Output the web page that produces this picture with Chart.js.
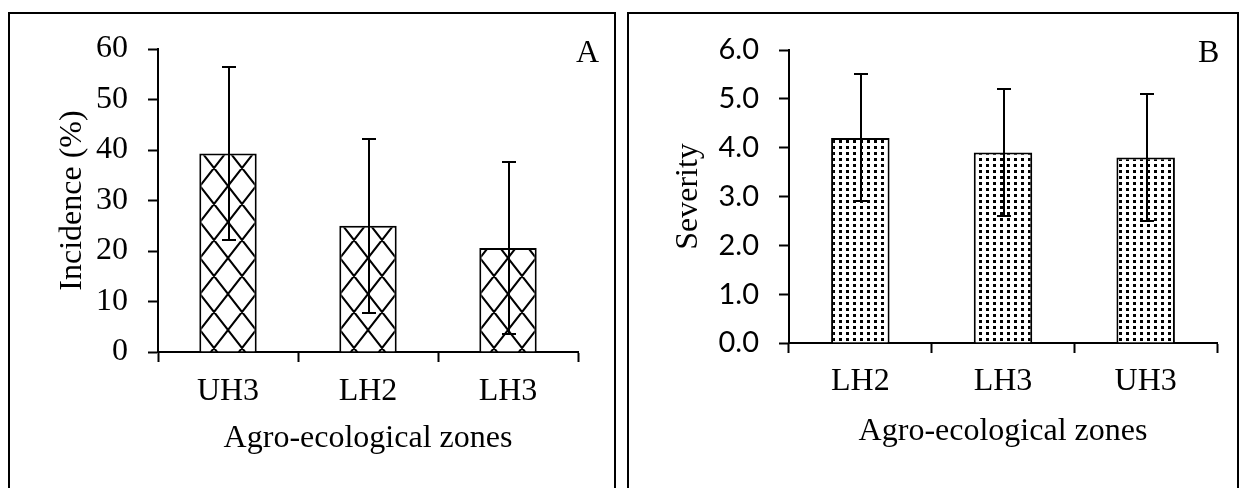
<!DOCTYPE html>
<html>
<head>
<meta charset="utf-8">
<script src="https://cdn.jsdelivr.net/npm/chart.js@4.4.1/dist/chart.umd.min.js"></script>
<style>
    html, body { margin: 0; padding: 0; background: #fff; }
    #page { position: relative; width: 1241px; height: 488px; overflow: hidden; }
    .frame { position: absolute; border: 2px solid #000; box-sizing: border-box; }
    .box { position: absolute; top: 0; height: 488px; }
    .tag { position: absolute; font-family: "Liberation Serif", "Times New Roman", serif; font-size: 32px; line-height: 1; color: #000; }
</style>
</head>
<body>
<div id="page">
    <div class="frame" style="left:8px; top:12px; width:608px; height:500px;"></div>
    <div class="frame" style="left:627px; top:12px; width:612px; height:500px;"></div>
    <div class="box" style="left:0; width:620px;"><canvas id="chartA"></canvas></div>
    <div class="box" style="left:620px; width:621px;"><canvas id="chartB"></canvas></div>
    <div class="tag" style="left:576px; top:35px;">A</div>
    <div class="tag" style="left:1198px; top:35px;">B</div>
</div>
<script>
/* ── Data ─────────────────────────────────────────────── */
var zonesA        = ['UH3', 'LH2', 'LH3'];
var incidence     = [39.3, 25.0, 20.6];
var incidenceErr  = [17.2, 17.2, 17.1];
var incidenceTick = [0, 10, 20, 30, 40, 50, 60];

var zonesB        = ['LH2', 'LH3', 'UH3'];
var severity      = [4.2, 3.9, 3.8];
var severityErr   = [1.3, 1.3, 1.3];
var severityTick  = [0, 1, 2, 3, 4, 5, 6];

/* ── Shared styles ────────────────────────────────────── */
var serif = { family: '"Liberation Serif", "Times New Roman", serif', size: 32, lineHeight: 1.2 };
var sans  = { family: 'Lato, "Open Sans", sans-serif', size: 29, lineHeight: 1.2 };

function crossPattern() {
    var w = 28, h = 36;
    var c = document.createElement('canvas');
    c.width = w; c.height = h;
    var g = c.getContext('2d');
    g.fillStyle = '#fff';
    g.fillRect(0, 0, w, h);
    g.strokeStyle = '#000';
    g.lineWidth = 2;
    g.beginPath();
    for (var dx = -w; dx <= w; dx += w) {
        for (var dy = -h; dy <= h; dy += h) {
            g.moveTo(dx, dy);     g.lineTo(dx + w, dy + h);
            g.moveTo(dx + w, dy); g.lineTo(dx, dy + h);
        }
    }
    g.stroke();
    var p = g.createPattern(c, 'repeat');
    p.setTransform(new DOMMatrix([1, 0, 0, 1, 4, 6]));
    return p;
}

function dotPattern() {
    var w = 7, h = 6;
    var c = document.createElement('canvas');
    c.width = w; c.height = h;
    var g = c.getContext('2d');
    g.fillStyle = '#fff';
    g.fillRect(0, 0, w, h);
    g.fillStyle = '#000';
    g.fillRect(2, 2, 3, 3);
    return g.createPattern(c, 'repeat');
}

// error bars drawn through the y scale
var errorBars = {
    id: 'errorBars',
    afterDatasetsDraw: function (chart, args, opts) {
        var ctx = chart.ctx, y = chart.scales.y;
        var ds = chart.data.datasets[0];
        var meta = chart.getDatasetMeta(0);
        ctx.save();
        ctx.strokeStyle = '#000';
        ctx.lineWidth = 2;
        meta.data.forEach(function (bar, i) {
            var v = ds.data[i], e = opts.errors[i];
            var x = Math.round(bar.x) + 1;
            var yTop = Math.round(y.getPixelForValue(v + e));
            var yBot = Math.round(y.getPixelForValue(v - e));
            ctx.beginPath();
            ctx.moveTo(x, yTop); ctx.lineTo(x, yBot);
            ctx.moveTo(x - 7, yTop); ctx.lineTo(x + 7, yTop);
            ctx.moveTo(x - 7, yBot); ctx.lineTo(x + 7, yBot);
            ctx.stroke();
        });
        ctx.restore();
    }
};

function axisGrid(between) {
    return { display: true, drawOnChartArea: false, drawTicks: true, tickLength: 10,
             tickColor: '#000', tickWidth: 2, offset: between };
}

function makeChart(id, labels, values, errors, ticks, fill, o) {
    return new Chart(document.getElementById(id), {
        type: 'bar',
        data: {
            labels: labels,
            datasets: [{
                data: values,
                backgroundColor: fill,
                borderColor: '#000',
                borderWidth: 2,
                barPercentage: 0.41,
                categoryPercentage: 1.0
            }]
        },
        plugins: [errorBars],
        options: {
            responsive: true,
            maintainAspectRatio: false,
            animation: false,
            devicePixelRatio: 1,
            layout: { padding: o.padding },
            plugins: {
                legend: { display: false },
                tooltip: { enabled: false },
                errorBars: { errors: errors }
            },
            scales: {
                x: {
                    offset: true,
                    grid: axisGrid(true),
                    border: { display: true, color: '#000', width: 2 },
                    ticks: { color: '#000', font: serif, padding: o.xPad, maxRotation: 0 },
                    title: { display: true, text: 'Agro-ecological zones', color: '#000', font: serif,
                             padding: { top: 0, bottom: o.xTitleBottom } },
                    afterFit: function (s) { s.height = o.xHeight; }
                },
                y: {
                    min: ticks[0],
                    max: ticks[ticks.length - 1],
                    grid: axisGrid(false),
                    border: { display: true, color: '#000', width: 2 },
                    afterBuildTicks: function (s) {
                        s.ticks = ticks.map(function (v) { return { value: v }; });
                    },
                    ticks: { color: '#000', font: o.yFont, padding: o.yPad, callback: o.yFmt },
                    title: { display: true, text: o.yTitle, color: '#000', font: serif,
                             padding: { top: o.yTitleTop, bottom: 0 } },
                    afterFit: function (s) { s.width = o.yWidth; }
                }
            }
        }
    });
}

makeChart('chartA', zonesA, incidence, incidenceErr, incidenceTick, crossPattern(), {
    padding: { left: 0, top: 49, right: 42, bottom: 0 },
    xHeight: 136, xPad: 10, xTitleBottom: 30,
    yWidth: 158, yPad: 20, yTitleTop: 53, yTitle: 'Incidence (%)',
    yFont: serif,
    yFmt: function (v) { return v; }
});

makeChart('chartB', zonesB, severity, severityErr, severityTick, dotPattern(), {
    padding: { left: 0, top: 50, right: 24, bottom: 0 },
    xHeight: 145, xPad: 9, xTitleBottom: 37,
    yWidth: 169, yPad: 20, yTitleTop: 49, yTitle: 'Severity',
    yFont: sans,
    yFmt: function (v) { return v.toFixed(1); }
});
</script>
</body>
</html>
